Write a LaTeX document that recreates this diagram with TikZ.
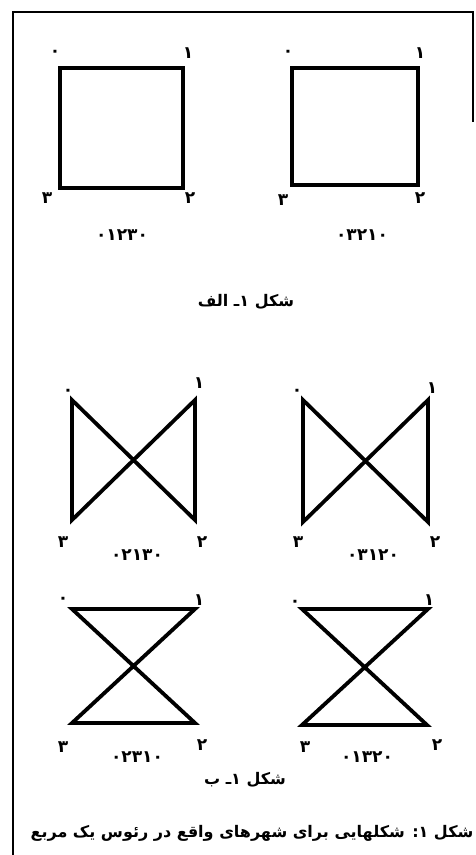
\documentclass[tikz,border=0pt]{standalone}
\usepackage{fontspec}
\newfontfamily\arabicfont[Script=Arabic]{DejaVu Sans}
\TeXXeTstate=1

\begin{document}
\begin{tikzpicture}[
    x=1pt, y=-1pt,
    every node/.style={inner sep=0pt},
    vlabel/.style={font=\arabicfont\bfseries\fontsize{17}{17}\selectfont},
    seqlabel/.style={font=\arabicfont\bfseries\fontsize{17}{17}\selectfont},
    caption/.style={font=\arabicfont\bfseries\fontsize{16}{16}\selectfont},
    tour/.style={line width=3.8pt, line join=miter, line cap=rect}
]
\useasboundingbox (0,0) rectangle (475,855);

% Frame
\draw[line width=2pt] (13,855) -- (13,12) -- (473,12) -- (473,122);

% === Square 01230 (top left) ===
\coordinate (a0) at (60,68);
\coordinate (a1) at (183,68);
\coordinate (a2) at (183,188);
\coordinate (a3) at (60,188);
\draw[tour] (a0) -- (a1) -- (a2) -- (a3) -- cycle;
\node[vlabel] (a0l) at (55,53) {۰};
\node[vlabel] (a1l) at (188,53) {۱};
\node[vlabel] (a2l) at (190,198) {۲};
\node[vlabel] (a3l) at (47,198) {۳};
\node[seqlabel] (aseq) at (122,235) {۰۱۲۳۰};

% === Square 03210 (top right) ===
\coordinate (b0) at (292,68);
\coordinate (b1) at (418,68);
\coordinate (b2) at (418,185);
\coordinate (b3) at (292,185);
\draw[tour] (b0) -- (b3) -- (b2) -- (b1) -- cycle;
\node[vlabel] (b0l) at (288,53) {۰};
\node[vlabel] (b1l) at (420,53) {۱};
\node[vlabel] (b2l) at (420,198) {۲};
\node[vlabel] (b3l) at (283,200) {۳};
\node[seqlabel] (bseq) at (362,235) {۰۳۲۱۰};

\node[caption] (capa) at (246,302) {\beginR شکل ۱ـ الف\endR};

% === Bowtie 02130 (middle left) ===
\coordinate (c0) at (72,400);
\coordinate (c1) at (195,400);
\coordinate (c2) at (195,520);
\coordinate (c3) at (72,520);
\draw[tour] (c0) -- (c2) -- (c1) -- (c3) -- cycle;
\node[vlabel] (c0l) at (68,392) {۰};
\node[vlabel] (c1l) at (199,383) {۱};
\node[vlabel] (c2l) at (202,542) {۲};
\node[vlabel] (c3l) at (63,542) {۳};
\node[seqlabel] (cseq) at (137,555) {۰۲۱۳۰};

% === Bowtie 03120 (middle right) ===
\coordinate (d0) at (303,400);
\coordinate (d1) at (428,400);
\coordinate (d2) at (428,522);
\coordinate (d3) at (303,522);
\draw[tour] (d0) -- (d3) -- (d1) -- (d2) -- cycle;
\node[vlabel] (d0l) at (297,392) {۰};
\node[vlabel] (d1l) at (432,388) {۱};
\node[vlabel] (d2l) at (435,542) {۲};
\node[vlabel] (d3l) at (298,542) {۳};
\node[seqlabel] (dseq) at (373,555) {۰۳۱۲۰};

% === Hourglass 02310 (bottom left) ===
\coordinate (e0) at (72,609);
\coordinate (e1) at (195,609);
\coordinate (e2) at (195,723);
\coordinate (e3) at (72,723);
\draw[tour] (e0) -- (e2) -- (e3) -- (e1) -- cycle;
\node[vlabel] (e0l) at (63,600) {۰};
\node[vlabel] (e1l) at (199,600) {۱};
\node[vlabel] (e2l) at (202,745) {۲};
\node[vlabel] (e3l) at (63,747) {۳};
\node[seqlabel] (eseq) at (137,757) {۰۲۳۱۰};

% === Hourglass 01320 (bottom right) ===
\coordinate (f0) at (302,609);
\coordinate (f1) at (428,609);
\coordinate (f2) at (427,725);
\coordinate (f3) at (302,725);
\draw[tour] (f0) -- (f1) -- (f3) -- (f2) -- cycle;
\node[vlabel] (f0l) at (295,603) {۰};
\node[vlabel] (f1l) at (429,600) {۱};
\node[vlabel] (f2l) at (437,745) {۲};
\node[vlabel] (f3l) at (305,747) {۳};
\node[seqlabel] (fseq) at (367,757) {۰۱۳۲۰};

\node[caption] (capb) at (245,780) {\beginR شکل ۱ـ ب\endR};

% Main caption
\node[caption] (capmain) at (252,833) {\beginR شکل ۱: شکلهایی برای شهرهای واقع در رئوس یک مربع\endR};

\end{tikzpicture}
\end{document}
